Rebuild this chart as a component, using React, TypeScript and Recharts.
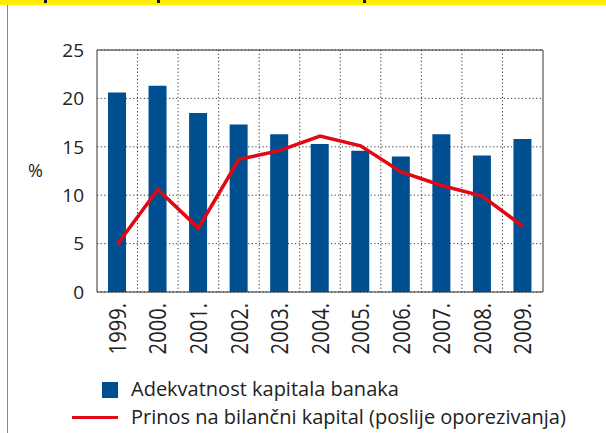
import { Bar, CartesianGrid, ComposedChart, Legend, Line, XAxis, YAxis } from "recharts";

const years = ["1999.", "2000.", "2001.", "2002.", "2003.", "2004.", "2005.", "2006.", "2007.", "2008.", "2009."];
const adekvatnost = [20.6, 21.3, 18.5, 17.3, 16.3, 15.3, 14.6, 14.0, 16.3, 14.1, 15.8];
const prinos = [4.9, 10.6, 6.6, 13.7, 14.6, 16.1, 15.1, 12.4, 11.0, 9.9, 6.8];
const yTicks = [0, 5, 10, 15, 20, 25];

const BLUE = "#004f91";
const RED = "#e30613";
const FONT = "'Open Sans', sans-serif";

const data = years.map((year, i) => ({ year, adekvatnost: adekvatnost[i], prinos: prinos[i] }));

// labels in the original are tall and narrow, so squeeze them a bit
function XTick({ x, y, payload }: any) {
  return (
    <text
      transform={`translate(${x},${y + 3}) rotate(-90) scale(0.84,1)`}
      textAnchor="end"
      dy="0.36em"
      fontSize={24}
      fill="#222"
      fontFamily={FONT}
    >
      {payload.value}
    </text>
  );
}

function LegendBox() {
  const text = { position: "absolute" as const, left: 131, fontSize: 20, color: "#222", fontFamily: FONT, whiteSpace: "nowrap" as const, lineHeight: "22px" };
  return (
    <div style={{ position: "relative", width: 606, height: 60 }}>
      <div style={{ position: "absolute", left: 102, top: 9, width: 16, height: 16, background: BLUE }} />
      <div style={{ ...text, top: 5 }}>Adekvatnost kapitala banaka</div>
      <div style={{ position: "absolute", left: 72, top: 43, width: 46, height: 3, background: RED }} />
      <div style={{ ...text, top: 33 }}>Prinos na bilančni kapital (poslije oporezivanja)</div>
    </div>
  );
}

export default function App() {
  return (
    <div style={{ position: "absolute", left: 0, top: 0, width: 606, height: 433, background: "#fff", overflow: "hidden" }}>
      <div style={{ position: "absolute", left: 0, top: 0, width: 606, height: 5, background: "#ffed00" }} />
      {[44, 157, 363].map((l) => (
        <div key={l} style={{ position: "absolute", left: l, top: 0, width: 3, height: 3, background: "#111" }} />
      ))}
      <div style={{ position: "absolute", left: 7, top: 5, width: 1, height: 428, background: "#888" }} />
      <ComposedChart
        width={606}
        height={433}
        data={data}
        margin={{ top: 49, right: 62, bottom: 0, left: 0 }}
        barCategoryGap={0}
        style={{ position: "absolute", left: 0, top: 0 }}
      >
        <CartesianGrid
          stroke="#333"
          strokeDasharray="1.2 2.4"
          verticalCoordinatesGenerator={({ offset }: any) =>
            years.slice(1).map((_, i) => offset.left + ((i + 1) * offset.width) / years.length)
          }
        />
        <XAxis dataKey="year" height={81} tickLine={false} axisLine={{ stroke: "#333" }} tick={<XTick />} interval={0} />
        <XAxis xAxisId="top" dataKey="year" orientation="top" height={1} tick={false} tickLine={false} axisLine={{ stroke: "#333" }} />
        <YAxis
          width={97}
          domain={[0, 25]}
          ticks={yTicks}
          tickLine={false}
          tickMargin={7}
          axisLine={{ stroke: "#333" }}
          tick={{ fontSize: 19, fill: "#222", fontFamily: FONT }}
          label={{ value: "%", position: "insideLeft", offset: 28, fontSize: 18, fill: "#222", fontFamily: FONT }}
        />
        <YAxis yAxisId="right" orientation="right" width={1} domain={[0, 25]} tick={false} tickLine={false} axisLine={{ stroke: "#333" }} />
        <Legend verticalAlign="bottom" height={60} content={<LegendBox />} wrapperStyle={{ left: 0, width: 606 }} />
        <Bar dataKey="adekvatnost" fill={BLUE} barSize={18} isAnimationActive={false} />
        <Line dataKey="prinos" stroke={RED} strokeWidth={3.5} dot={false} activeDot={false} isAnimationActive={false} />
      </ComposedChart>
    </div>
  );
}
